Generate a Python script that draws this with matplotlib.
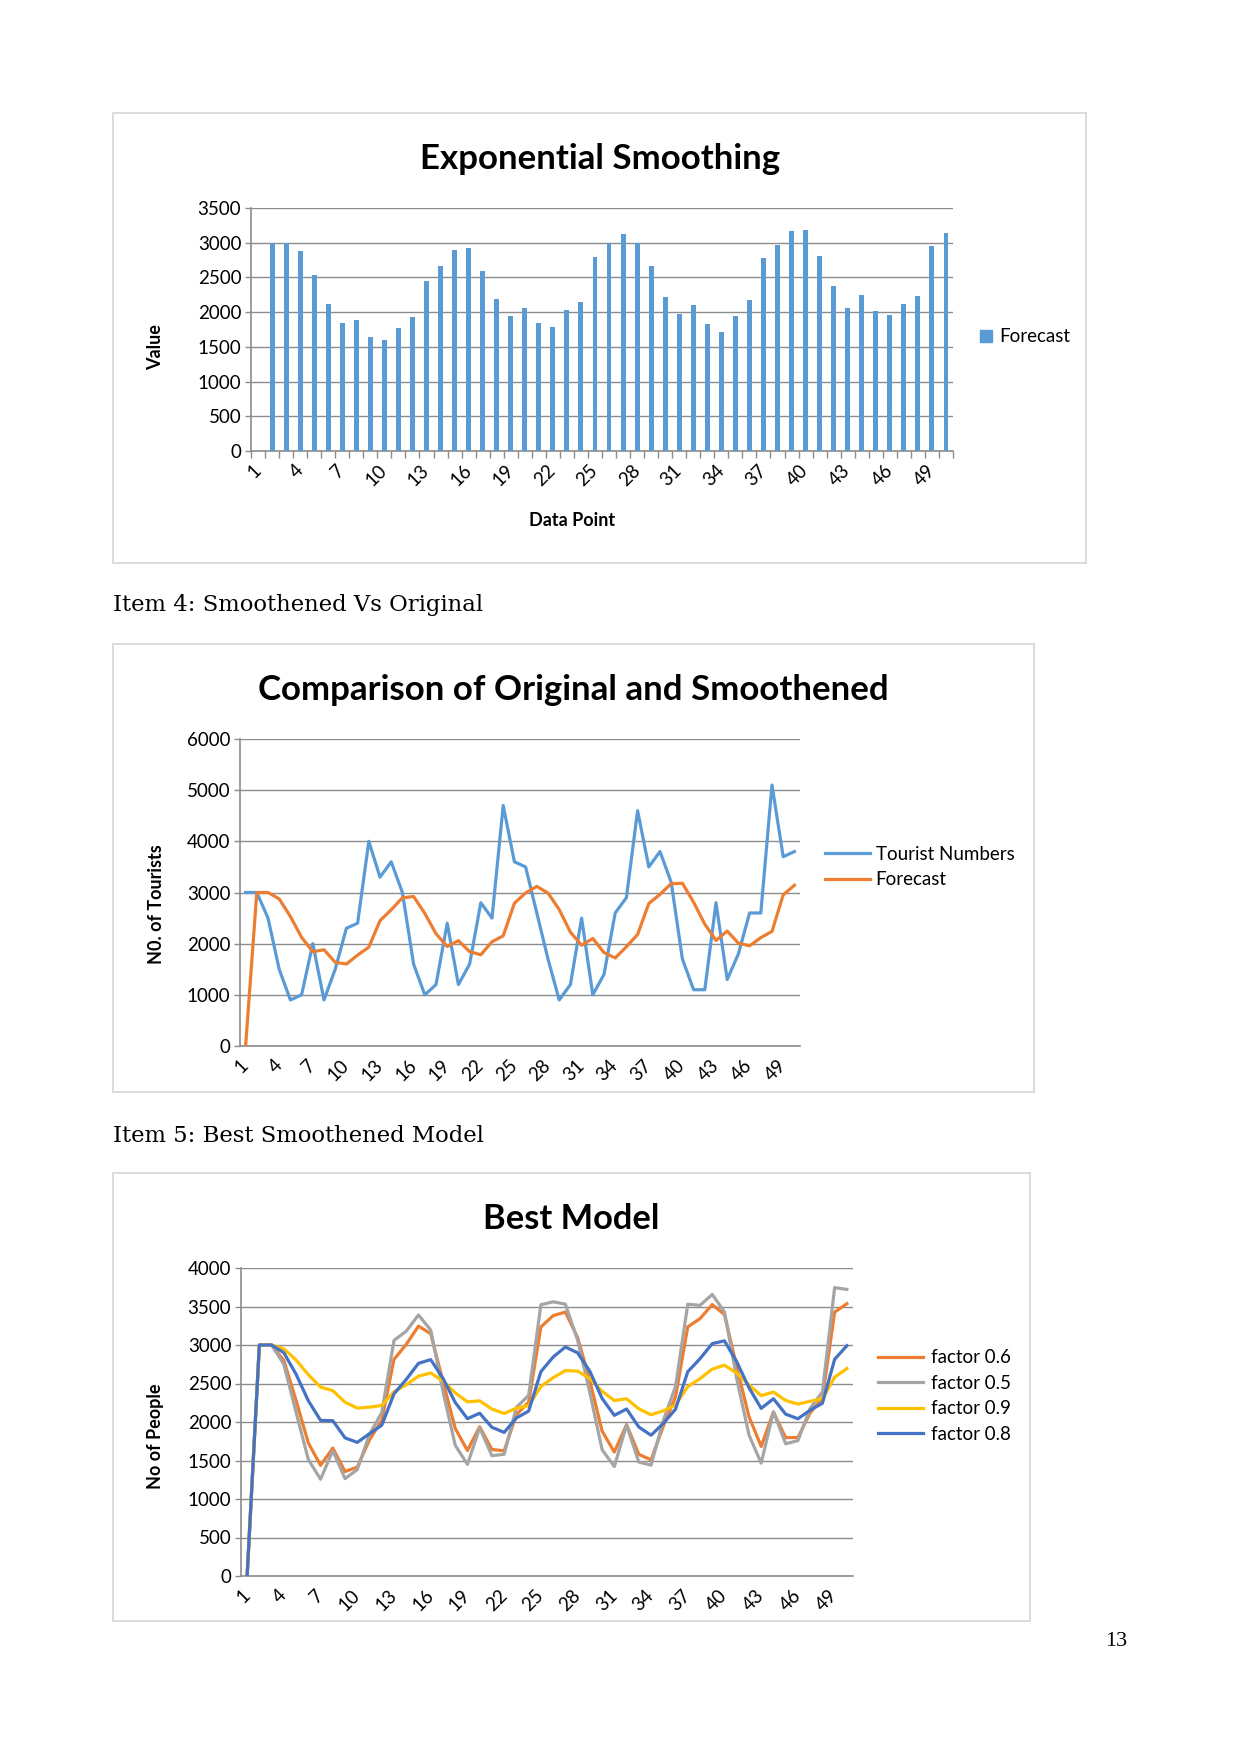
import matplotlib
matplotlib.use("Agg")
import matplotlib.pyplot as plt
from matplotlib.patches import Rectangle, Patch
import numpy as np

# ---------------- data ----------------
data_points = list(range(1, 51))
tick_labels = [str(i) for i in range(1, 51, 3)]

tourist_numbers = [3000, 3000, 2500, 1500, 900, 1000, 2000, 900, 1500, 2300,
                   2400, 4000, 3300, 3600, 3000, 1600, 1000, 1200, 2400, 1200,
                   1600, 2800, 2500, 4700, 3600, 3500, 2600, 1700, 900, 1200,
                   2500, 1000, 1400, 2600, 2900, 4600, 3500, 3800, 3200, 1700,
                   1100, 1100, 2800, 1300, 1800, 2600, 2600, 5100, 3700, 3800]

forecast = [0, 3000, 3000, 2875, 2531, 2123, 1842, 1882, 1636, 1602,
            1777, 1932, 2449, 2662, 2896, 2922, 2592, 2194, 1945, 2059,
            1844, 1783, 2037, 2153, 2790, 2992, 3119, 2989, 2667, 2225,
            1969, 2102, 1826, 1720, 1940, 2180, 2785, 2964, 3173, 3180,
            2810, 2382, 2062, 2247, 2010, 1958, 2118, 2239, 2954, 3141]

factor_06 = [0, 3000, 3000, 2800, 2280, 1728, 1437, 1662, 1357, 1414,
             1769, 2021, 2813, 3008, 3245, 3147, 2528, 1917, 1630, 1938,
             1643, 1626, 2096, 2257, 3234, 3381, 3428, 3097, 2538, 1883,
             1610, 1966, 1580, 1508, 1945, 2327, 3236, 3342, 3525, 3395,
             2717, 2070, 1682, 2129, 1797, 1798, 2119, 2311, 3427, 3536]

factor_05 = [0, 3000, 3000, 2750, 2125, 1513, 1256, 1628, 1264, 1382,
             1841, 2121, 3060, 3180, 3390, 3195, 2398, 1699, 1449, 1925,
             1562, 1581, 2190, 2345, 3523, 3561, 3531, 3065, 2383, 1641,
             1421, 1960, 1480, 1440, 2020, 2460, 3530, 3515, 3657, 3429,
             2564, 1832, 1466, 2133, 1717, 1758, 2179, 2390, 3745, 3722]

factor_09 = [0, 3000, 3000, 2950, 2805, 2615, 2453, 2408, 2257, 2181,
             2193, 2214, 2393, 2484, 2596, 2636, 2532, 2379, 2261, 2275,
             2168, 2111, 2180, 2212, 2461, 2575, 2668, 2661, 2565, 2399,
             2279, 2301, 2171, 2094, 2145, 2221, 2459, 2563, 2687, 2738,
             2634, 2481, 2343, 2389, 2280, 2232, 2269, 2302, 2582, 2694]

factor_08 = [0, 3000, 3000, 2900, 2620, 2276, 2021, 2017, 1794, 1735,
             1848, 1958, 2366, 2553, 2762, 2810, 2568, 2254, 2043, 2114,
             1931, 1865, 2052, 2142, 2654, 2843, 2974, 2899, 2659, 2307,
             2086, 2169, 1935, 1828, 1982, 2166, 2653, 2822, 3018, 3054,
             2783, 2446, 2177, 2302, 2102, 2042, 2154, 2243, 2814, 2991]

# ---------------- layout helpers ----------------
W, H = 1241, 1754
fig = plt.figure(figsize=(W / 100, H / 100), dpi=100)
fig.patch.set_facecolor("white")
renderer = fig.canvas.get_renderer()

FONT = "Lato"
GRID = "#8C8C8C"
BOX = "#D9D9D9"


def fx(x):
    return x / W


def fy(y):
    return 1 - y / H


def add_ax(x0, y0, x1, y1):
    return fig.add_axes([fx(x0), fy(y1), (x1 - x0) / W, (y1 - y0) / H])


def box(x0, y0, x1, y1):
    fig.add_artist(Rectangle((fx(x0), fy(y1)), (x1 - x0) / W, (y1 - y0) / H,
                             transform=fig.transFigure, fill=False,
                             edgecolor=BOX, lw=1.3))


def fit_text(x, y, s, width_px, **kw):
    t = fig.text(fx(x), fy(y), s, **kw)
    w = t.get_window_extent(renderer).width
    t.set_fontsize(t.get_fontsize() * width_px / w)
    return t


def style_ax(ax, ymax, ystep):
    ax.set_xlim(0.5, 50.5)
    ax.set_ylim(0, ymax)
    ax.set_yticks(np.arange(0, ymax + 1, ystep))
    ax.yaxis.grid(True, color=GRID, lw=1.0)
    ax.set_axisbelow(True)
    for sp in ("top", "right"):
        ax.spines[sp].set_visible(False)
    for sp in ("left", "bottom"):
        ax.spines[sp].set_color(GRID)
        ax.spines[sp].set_linewidth(1.2)
    ax.set_xticks(range(1, 51, 3))
    ax.set_xticklabels(tick_labels, rotation=45, ha="right",
                       rotation_mode="anchor", va="center")
    ax.tick_params(axis="x", length=0, pad=12, labelsize=13.5)
    ax.tick_params(axis="y", length=4, color=GRID, width=1, labelsize=13.5, pad=3)
    for lab in ax.get_xticklabels() + ax.get_yticklabels():
        lab.set_fontfamily(FONT)
    ax.set_facecolor("none")


# ---------------- Chart 1 ----------------
box(113, 113, 1086, 563)
fit_text(600, 159, "Exponential Smoothing", 361, family=FONT, weight="bold",
         ha="center", va="center", fontsize=24)
ax1 = add_ax(251, 208, 953, 451)
ax1.bar(data_points, forecast, width=0.35, color="#5B9BD5", zorder=3)
style_ax(ax1, 3500, 500)
ax1.set_xticks(np.arange(0.5, 51, 1), minor=True)
ax1.tick_params(axis="x", which="minor", length=5, color=GRID, width=1)
fig.text(fx(156), fy(347), "Value", rotation=90, family=FONT, weight="bold",
         fontsize=13, ha="center", va="center")
fig.text(fx(572), fy(521), "Data Point", family=FONT, weight="bold",
         fontsize=13, ha="center", va="center")
ax1.legend(handles=[Patch(color="#5B9BD5", label="Forecast")],
           loc="center left", bbox_to_anchor=(fx(980), fy(337)),
           bbox_transform=fig.transFigure, frameon=False, borderpad=0,
           borderaxespad=0, handlelength=0.65, handleheight=0.65,
           handletextpad=0.4, prop={"family": FONT, "size": 13.5})

fit_text(113, 605, "Item 4: Smoothened Vs Original", 372, family="DejaVu Serif",
         ha="left", va="center", fontsize=15)

# ---------------- Chart 2 ----------------
box(113, 644, 1034, 1092)
fit_text(573, 690, "Comparison of Original and Smoothened", 633, family=FONT,
         weight="bold", ha="center", va="center", fontsize=24)
ax2 = add_ax(240, 739, 800, 1046)
ax2.plot(data_points, tourist_numbers, color="#5B9BD5", lw=2.3,
         label="Tourist Numbers", zorder=3)
ax2.plot(data_points, forecast, color="#ED7D31", lw=2.3, label="Forecast",
         zorder=3)
style_ax(ax2, 6000, 1000)
fig.text(fx(156), fy(904), "N0. of Tourists", rotation=90, family=FONT,
         weight="bold", fontsize=13, ha="center", va="center")
ax2.legend(loc="center left", bbox_to_anchor=(fx(825), fy(867)),
           bbox_transform=fig.transFigure, frameon=False, borderpad=0,
           borderaxespad=0, handlelength=2.4, handletextpad=0.3,
           labelspacing=0.45, prop={"family": FONT, "size": 13.5})

fit_text(113, 1136, "Item 5: Best Smoothened Model", 374, family="DejaVu Serif",
         ha="left", va="center", fontsize=15)

# ---------------- Chart 3 ----------------
box(113, 1173, 1030, 1621)
fit_text(571, 1219, "Best Model", 176, family=FONT, weight="bold",
         ha="center", va="center", fontsize=24)
ax3 = add_ax(241, 1268, 853, 1576)
ax3.plot(data_points, factor_06, color="#ED7D31", lw=2.3, label="factor 0.6", zorder=3)
ax3.plot(data_points, factor_05, color="#A5A5A5", lw=2.3, label="factor 0.5", zorder=3)
ax3.plot(data_points, factor_09, color="#FFC000", lw=2.3, label="factor 0.9", zorder=3)
ax3.plot(data_points, factor_08, color="#4472C4", lw=2.3, label="factor 0.8", zorder=3)
style_ax(ax3, 4000, 500)
fig.text(fx(156), fy(1436), "No of People", rotation=90, family=FONT,
         weight="bold", fontsize=13, ha="center", va="center")
ax3.legend(loc="center left", bbox_to_anchor=(fx(878), fy(1396)),
           bbox_transform=fig.transFigure, frameon=False, borderpad=0,
           borderaxespad=0, handlelength=2.4, handletextpad=0.4,
           labelspacing=0.45, prop={"family": FONT, "size": 13.5})

# page number
fig.text(fx(1116), fy(1641), "13", family="Liberation Serif", fontsize=16,
         ha="center", va="center")

fig.savefig("out.png", dpi=100, facecolor="white")
